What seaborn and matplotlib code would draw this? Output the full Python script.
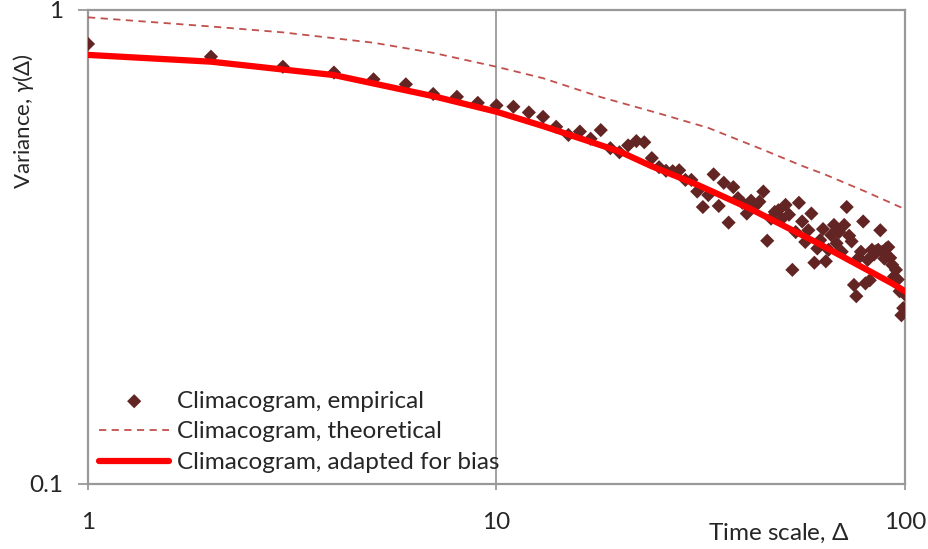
import matplotlib
matplotlib.use("Agg")
import matplotlib.pyplot as plt
from matplotlib.ticker import NullLocator, FixedLocator, FixedFormatter
import seaborn as sns
import pandas as pd

# ---- data ----
scale_emp = list(range(1, 101))
var_emp = [0.848, 0.797, 0.759, 0.738, 0.714, 0.697, 0.665, 0.656, 0.637, 0.629,
           0.625, 0.608, 0.595, 0.567, 0.545, 0.554, 0.535, 0.558, 0.511, 0.501,
           0.518, 0.529, 0.526, 0.487, 0.466, 0.458, 0.457, 0.459, 0.438, 0.438,
           0.414, 0.384, 0.407, 0.450, 0.386, 0.432, 0.356, 0.423, 0.401, 0.392,
           0.372, 0.396, 0.386, 0.394, 0.414, 0.326, 0.363, 0.375, 0.378, 0.363,
           0.388, 0.370, 0.283, 0.340, 0.392, 0.358, 0.324, 0.343, 0.372, 0.293,
           0.314, 0.327, 0.345, 0.295, 0.312, 0.335, 0.352, 0.322, 0.340, 0.309,
           0.352, 0.384, 0.334, 0.325, 0.263, 0.249, 0.300, 0.309, 0.358, 0.265,
           0.297, 0.269, 0.312, 0.305, 0.310, 0.312, 0.343, 0.309, 0.299, 0.314,
           0.316, 0.300, 0.290, 0.274, 0.283, 0.270, 0.255, 0.227, 0.235, 0.251]

scale_theo = [1, 2, 3, 5, 7, 10, 13, 18, 25, 33, 45, 56, 64, 80, 100]
var_theo = [0.965, 0.923, 0.897, 0.853, 0.812, 0.759, 0.718, 0.655, 0.605, 0.564,
            0.507, 0.469, 0.449, 0.414, 0.380]

scale_adapt = [1, 2, 4, 7, 10, 13, 20, 24, 31, 42, 60, 93, 100]
var_adapt = [0.804, 0.778, 0.729, 0.658, 0.610, 0.569, 0.503, 0.468, 0.428, 0.380,
             0.325, 0.265, 0.255]

x_ticks = [1, 10, 100]
x_tick_labels = ["1", "10", "100"]
y_ticks = [0.1, 1]
y_tick_labels = ["0.1", "1"]

labels = ["Climacogram, empirical", "Climacogram, theoretical",
          "Climacogram, adapted for bias"]

# ---- style ----
sns.set_style("white")
plt.rcParams["font.family"] = ["Lato", "DejaVu Sans"]
plt.rcParams["mathtext.fontset"] = "custom"
plt.rcParams["mathtext.rm"] = "Lato"
plt.rcParams["mathtext.it"] = "Lato:italic"
plt.rcParams["mathtext.fallback"] = "stixsans"

FS = 17.5
GRAY = "#999999"

df_emp = pd.DataFrame({"scale": scale_emp, "var": var_emp})
df_theo = pd.DataFrame({"scale": scale_theo, "var": var_theo})
df_adapt = pd.DataFrame({"scale": scale_adapt, "var": var_adapt})

fig = plt.figure(figsize=(9.29, 5.49), dpi=100)
ax = fig.add_axes([88 / 929, 1 - 484 / 549, (905 - 88) / 929, (484 - 10) / 549])

ax.set_xscale("log")
ax.set_yscale("log")

sns.scatterplot(data=df_emp, x="scale", y="var", marker="D", s=52,
                color="#632523", edgecolor="none", linewidth=0, ax=ax,
                label=labels[0], zorder=3)
sns.lineplot(data=df_theo, x="scale", y="var", color="#C0504D", lw=1.3,
             dashes=False, ax=ax, label=labels[1], zorder=4)
ax.lines[-1].set_dashes([4, 3])
sns.lineplot(data=df_adapt, x="scale", y="var", color="#FF0000", lw=4.5,
             ax=ax, label=labels[2], zorder=5)

ax.set_xlim(1, 100)
ax.set_ylim(0.1, 1)

ax.xaxis.set_major_locator(FixedLocator(x_ticks))
ax.xaxis.set_major_formatter(FixedFormatter(x_tick_labels))
ax.yaxis.set_major_locator(FixedLocator(y_ticks))
ax.yaxis.set_major_formatter(FixedFormatter(y_tick_labels))
ax.xaxis.set_minor_locator(NullLocator())
ax.yaxis.set_minor_locator(NullLocator())

ax.tick_params(axis="x", which="major", direction="out", length=4.5, width=1.3,
               color=GRAY, labelsize=FS, pad=16, bottom=True)
ax.tick_params(axis="y", which="major", direction="out", length=7, width=1.3,
               color=GRAY, labelsize=FS, pad=11, left=True)

ax.xaxis.grid(True, color=GRAY, lw=1.3)
ax.yaxis.grid(False)
for sp in ax.spines.values():
    sp.set_color(GRAY)
    sp.set_linewidth(1.6)
    sp.set_visible(True)

ax.set_xlabel(r"Time scale, $\mathit{\Delta}$", fontsize=FS, ha="right", va="center")
ax.xaxis.set_label_coords((850 - 88) / 817, (484 - 533) / 474)
ax.set_ylabel(r"Variance, $\mathit{\gamma}$($\mathit{\Delta}$)", fontsize=16,
              ha="center", va="center")
ax.yaxis.set_label_coords((23 - 88) / 817, (484 - 121) / 474)

leg = ax.legend(loc="lower left", bbox_to_anchor=(0.0, 0.0), frameon=False,
                fontsize=FS, handlelength=2.9, handletextpad=0.3,
                labelspacing=0.4, borderaxespad=0.05)

fig.savefig("out.png", dpi=100)
